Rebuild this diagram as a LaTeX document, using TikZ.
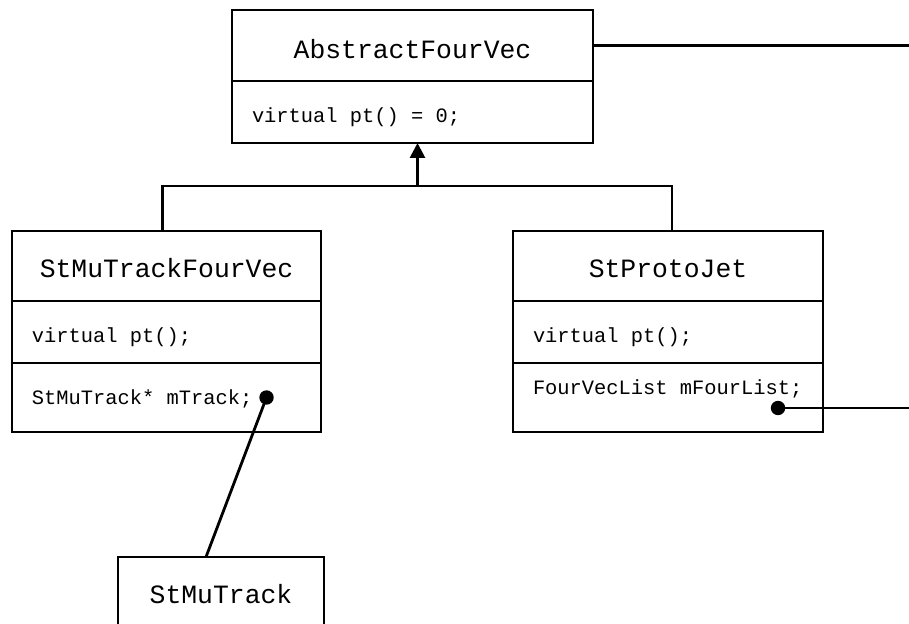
\documentclass[tikz,border=0pt]{standalone}
\usepackage{fontspec}
\setmonofont{Liberation Mono}
\usetikzlibrary{arrows.meta, positioning}

\begin{document}
\begin{tikzpicture}[x=0.5pt, y=0.5pt, node distance=0pt, >={Triangle[width=7.5pt, length=7.5pt]}]
    \tikzstyle{classname} = [rectangle, draw=black, line width=1.4pt, outer sep=0pt, minimum height=35pt, text height=11.5pt, text depth=0pt, font=\ttfamily\fontsize{13.2}{15}\selectfont]
    \tikzstyle{member} = [rectangle, draw=black, line width=1.4pt, outer sep=0pt, minimum height=31pt, inner xsep=10pt, text height=11pt, text depth=0pt, align=flush left, font=\ttfamily\fontsize{10.2}{12}\selectfont]
    \tikzstyle{link} = [line width=1.4pt]

    \useasboundingbox (0,0) rectangle (909,-624);
    \coordinate (rightedge) at (909,0);

    % Base class
    \node (afv) [classname, minimum width=180.5pt, minimum height=35.5pt, text height=12.8pt] at (412.5,-45.5) {AbstractFourVec};
    \node (afvpt) [member, text width=160.5pt, below=0pt of afv] {virtual pt() = 0;};

    % Derived classes
    \node (smtfv) [classname, minimum width=154.5pt] at (166.5,-266) {StMuTrackFourVec};
    \node (smtfvpt) [member, text width=134.5pt, below=0pt of smtfv] {virtual pt();};
    \node (smtfvdata) [member, text width=134.5pt, minimum height=34.5pt, text height=8pt, text depth=0.5pt, below=0pt of smtfvpt] {StMuTrack* mTrack;};

    \node (spj) [classname, minimum width=155pt] at (668,-266) {StProtoJet};
    \node (spjpt) [member, text width=135pt, below=0pt of spj] {virtual pt();};
    \node (spjdata) [member, text width=135pt, minimum height=34.5pt, text height=6pt, text depth=8.5pt, below=0pt of spjpt] {FourVecList mFourList;};

    % Referenced class
    \node (smt) [classname, minimum width=103pt] at (221,-592) {StMuTrack};

    % Inheritance
    \coordinate (join) at ([xshift=2.5pt, yshift=-21.5pt]afvpt.south);
    \draw[link] ([xshift=-2pt]smtfv.north) |- (join);
    \draw[link] ([xshift=2pt]spj.north) |- (join);
    \draw[link, ->] (join) -- (join |- afvpt.south);

    % Associations
    \coordinate (trackdot) at ([xshift=50pt]smtfvdata.center);
    \coordinate (listdot) at ([xshift=55pt, yshift=-5.25pt]spjdata.center);
    \fill (trackdot) circle (3.6pt);
    \fill (listdot) circle (3.6pt);
    \draw[link] (trackdot) -- ([xshift=-7.5pt]smt.north);
    \draw[link] (listdot) -- (listdot -| rightedge);
    \draw[link] (afv.east) -- (afv.east -| rightedge);
\end{tikzpicture}
\end{document}
